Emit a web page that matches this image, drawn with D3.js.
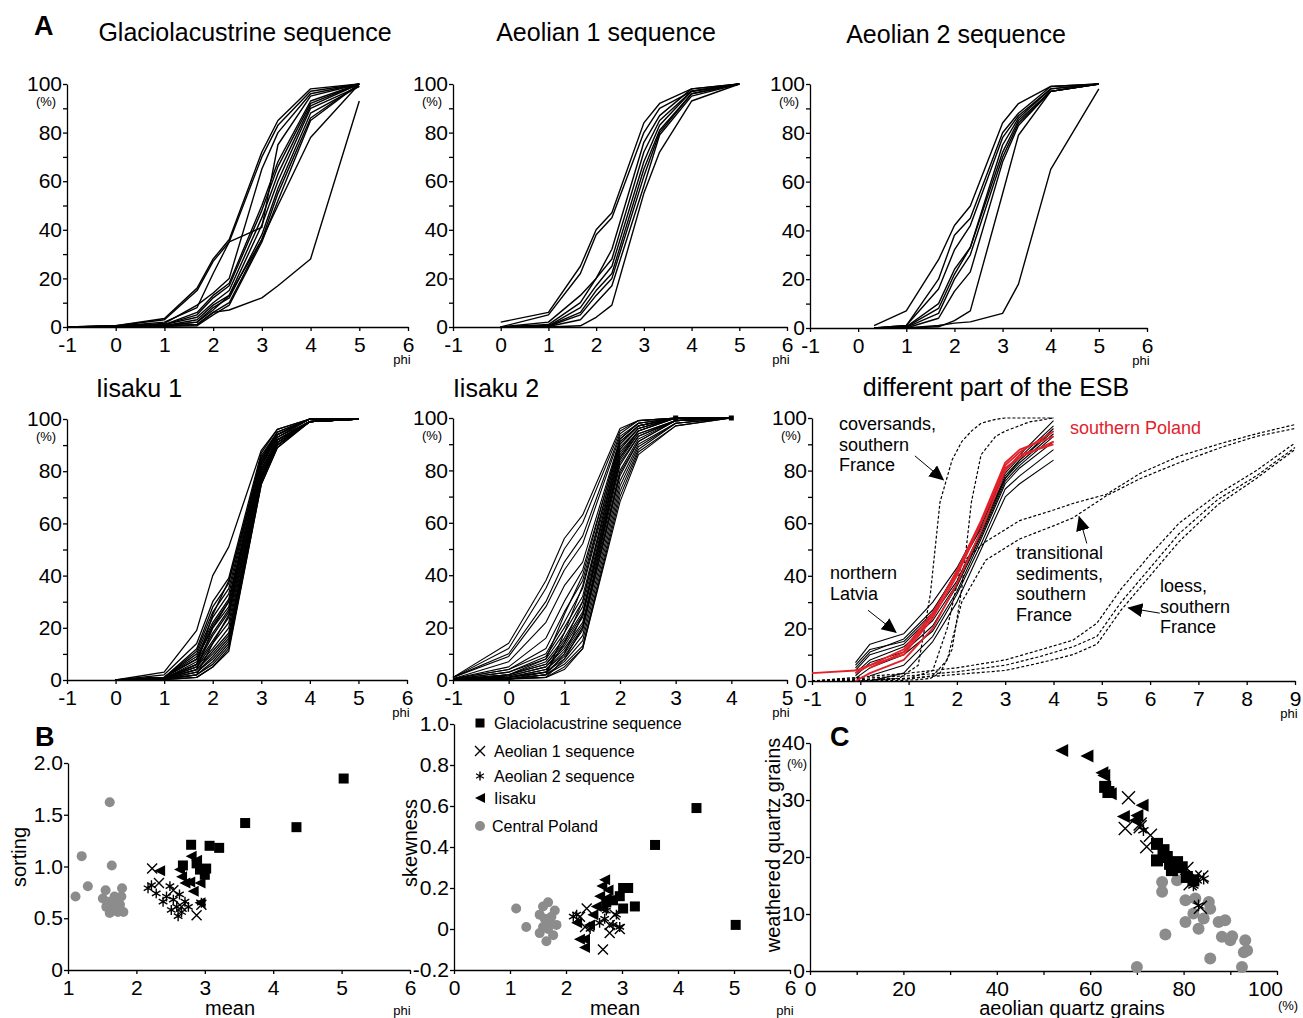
<!DOCTYPE html>
<html>
<head>
<meta charset="utf-8">
<script src="https://cdn.jsdelivr.net/npm/d3@7"></script>
<style>
  body { margin: 0; background: #fff; }
  svg { font-family: "Liberation Sans", Arial, sans-serif; }
  .axis text { font-size: 21px; fill: #000; font-family: "Liberation Sans", Arial, sans-serif; }
  .axis path, .axis line { stroke: #000; stroke-width: 1.3; }
</style>
</head>
<body>
<svg id="fig" width="1303" height="1018"></svg>
<script>
// ---- grain size curves (cumulative %, by phi) ----
var glacioPhi = [-1, 0, 1, 1.67, 2, 2.33, 3, 3.33, 4, 5];
var glacioPct = [
    [0, 0.5, 3.5, 16, 28, 36, 72, 85, 98, 100],
    [0, 0.5, 3, 15, 27, 35, 70, 83, 97, 100],
    [0, 0.3, 2, 8, 22, 35, 41, 75, 95, 100],
    [0, 0.3, 1.5, 9, 14, 20, 65, 80, 96, 100],
    [0, 0.3, 1, 6, 13, 18, 50, 68, 93, 100],
    [0, 0.2, 1, 5, 12, 17, 48, 66, 92, 100],
    [0, 0.2, 1, 4, 10, 15, 45, 63, 91, 100],
    [0, 0.2, 0.5, 3, 9, 13, 42, 60, 90, 99],
    [0, 0.2, 0.5, 2, 8, 12, 38, 57, 88, 99],
    [0, 0.1, 0.5, 1, 6, 10, 36, 55, 86, 100],
    [0, 0.1, 0.3, 0.5, 5, 9, 35, 52, 85, 100],
    [0, 0.2, 0.5, 2, 7, 13, 36, 50, 78, 100],
    [0, 0.1, 0.3, 1, 6, 7, 12, 17, 28, 93]
];
var aeolian1Phi = [0, 1, 1.67, 2, 2.33, 3, 3.33, 4, 5];
var aeolian1Pct = [
    [2, 6, 25, 40, 47, 84, 92, 98, 100],
    [0, 5, 22, 38, 45, 80, 90, 97, 100],
    [0, 2, 13, 20, 32, 76, 87, 98, 100],
    [0, 1, 10, 20, 28, 72, 85, 97, 100],
    [0, 0.5, 8, 17, 25, 68, 83, 97, 100],
    [0, 0.5, 6, 15, 22, 65, 81, 96, 100],
    [0, 0.3, 5, 13, 20, 62, 80, 96, 100],
    [0, 0.2, 3, 10, 17, 58, 79, 95, 100],
    [0, 0, 0.5, 4, 9, 55, 72, 93, 100]
];
var aeolian2Phi = [0.33, 1, 1.67, 2, 2.33, 3, 3.33, 4, 5];
var aeolian2Pct = [
    [1, 7, 28, 42, 50, 84, 92, 99, 100],
    [0, 1, 20, 38, 45, 80, 88, 99, 100],
    [0, 1, 16, 32, 42, 78, 87, 98, 100],
    [0, 0.5, 10, 24, 33, 75, 86, 98, 100],
    [0, 0.5, 8, 22, 33, 72, 85, 97, 100],
    [0, 0.3, 6, 20, 30, 70, 84, 97, 100],
    [0, 0, 4, 15, 23, 68, 83, 97, 100],
    [0, 0, 0.5, 3, 7, 55, 79, 97, 100],
    [0, 0, 1, 2, 2.5, 6, 18, 65, 98]
];
var iisaku1Phi = [0, 1, 1.67, 2, 2.33, 3, 3.33, 4, 5];
var iisaku1Pct = [
    [0, 3, 19, 40, 51, 88, 96, 100, 100],
    [0, 2, 14, 30, 39, 87, 96, 100, 100],
    [0, 1, 12, 28, 37, 86, 95, 100, 100],
    [0, 1, 11, 26, 35, 85, 95, 100, 100],
    [0, 1, 10, 24, 33, 85, 94, 100, 100],
    [0, 1, 9, 22, 31, 84, 94, 100, 100],
    [0, 1, 8, 21, 30, 83, 94, 100, 100],
    [0, 1, 8, 20, 28, 83, 93, 100, 100],
    [0, 0.5, 7, 18, 27, 82, 93, 100, 100],
    [0, 0.5, 6, 17, 26, 82, 93, 99, 100],
    [0, 0.5, 6, 15, 24, 81, 92, 99, 100],
    [0, 0.5, 5, 14, 22, 80, 92, 99, 100],
    [0, 0.5, 5, 12, 20, 80, 92, 99, 100],
    [0, 0.5, 4, 11, 18, 79, 91, 99, 100],
    [0, 0.5, 4, 10, 17, 78, 91, 99, 100],
    [0, 0.3, 3, 9, 16, 78, 91, 99, 100],
    [0, 0.3, 3, 8, 15, 77, 90, 99, 100],
    [0, 0.3, 2, 7, 14, 77, 90, 99, 100],
    [0, 0.3, 2, 6, 13, 76, 90, 99, 100],
    [0, 0.2, 1, 5, 12, 75, 89, 99, 100],
    [0, 0.2, 1, 5, 11, 75, 89, 99, 100],
    [0, 0.5, 6, 25, 38, 84, 94, 100, 100],
    [0, 0.5, 4, 20, 30, 80, 92, 99, 100],
    [0, 0.3, 2, 14, 25, 78, 91, 99, 100]
];
var iisaku2Phi = [-1, 0, 0.67, 1, 1.33, 2, 2.33, 3, 4];
var iisaku2Pct = [
    [1, 14, 38, 54, 63, 96, 99, 100, 100],
    [1, 12, 35, 50, 60, 95, 99, 100, 100],
    [1, 10, 30, 45, 55, 94, 99, 100, 100],
    [1, 9, 28, 42, 52, 93, 98, 100, 100],
    [0.5, 7, 22, 36, 45, 92, 98, 100, 100],
    [0.5, 5, 16, 30, 42, 91, 97, 100, 100],
    [0.5, 4, 12, 26, 38, 90, 97, 100, 100],
    [0.5, 4, 10, 22, 35, 89, 96, 100, 100],
    [0.3, 3, 9, 20, 32, 88, 96, 100, 100],
    [0.3, 3, 8, 18, 30, 87, 95, 100, 100],
    [0.3, 2, 7, 16, 28, 86, 95, 100, 100],
    [0.2, 2, 6, 15, 26, 85, 94, 99, 100],
    [0.2, 2, 6, 14, 25, 84, 94, 99, 100],
    [0.2, 1.5, 5, 13, 24, 83, 93, 99, 100],
    [0.2, 1.5, 5, 12, 22, 82, 93, 99, 100],
    [0, 1, 4, 11, 21, 80, 92, 99, 100],
    [0, 1, 4, 10, 20, 79, 91, 99, 100],
    [0, 1, 3, 9, 19, 78, 91, 99, 100],
    [0, 1, 3, 8, 17, 76, 90, 98, 100],
    [0, 0.5, 2, 7, 15, 74, 89, 98, 100],
    [0, 0.5, 2, 6, 13, 72, 88, 98, 100],
    [0, 0.5, 1, 5, 12, 70, 87, 97, 100],
    [0, 0.5, 1, 4, 12, 68, 86, 97, 100],
    [0, 0.3, 1, 8, 20, 85, 95, 100, 100],
    [0, 0.3, 2, 10, 25, 88, 96, 100, 100],
    [0, 0.3, 3, 14, 30, 90, 97, 100, 100],
    [0, 0.3, 2, 18, 36, 91, 97, 100, 100],
    [0, 2, 8, 25, 40, 92, 98, 100, 100]
];
// different parts of the ESB
var latviaPhi = [-0.1, 0.2, 0.9, 1.5, 2, 2.5, 3, 3.3, 4];
var latviaPct = [
    [7, 14, 18, 30, 43, 60, 80, 86, 99],
    [5, 11, 16, 27, 41, 59, 79, 85, 97],
    [4, 10, 14, 25, 38, 57, 78, 84, 96],
    [3, 8, 13, 23, 37, 56, 77, 83, 94],
    [2, 7, 11, 21, 36, 55, 76, 82, 93],
    [1, 5, 10, 19, 34, 54, 75, 81, 91],
    [null, 2, 6, 17, 33, 52, 73, 78, 88],
    [null, 0, 3, 15, 30, 50, 70, 75, 84],
    [6, 12, 15, 26, 42, 58, 77, 84, 95]
];
var polandPhi = [-1, -0.1, 0.2, 0.9, 1.5, 2, 2.5, 3, 3.3, 4];
var polandPct = [
    [3, 4, 6, 10, 24, 40, 60, 82, 87, 95],
    [null, 0, 3, 8, 20, 37, 57, 80, 86, 90],
    [null, null, 5, 11, 25, 42, 61, 83, 88, 93],
    [null, 3, 6, 12, 26, 41, 60, 81, 85, 91]
];
var coversandPhi = [0, 0.8, 1.2, 1.45, 1.65, 1.9, 2.1, 2.3, 2.5, 2.8, 3, 3.5, 4];
var coversandPct = [
    [0, 1, 6, 33, 68, 84, 91, 95, 98, 99.5, 100, 100, 100],
    [0, 0.2, 0.5, 1, 3, 12, 35, 68, 86, 93, 95, 98.5, 100]
];
var transitionalPhi = [-1, 0, 1, 1.5, 1.8, 2.1, 2.6, 3.3, 4, 4.4, 5.1, 5.8, 6.6, 7.5, 8.2, 9];
var transitionalPct = [
    [0, 0.5, 1, 4, 20, 45, 53, 61, 65, 67.5, 71, 79, 85.5, 90.5, 94, 97.5],
    [0, 0.3, 0.8, 2, 8, 30, 46, 54, 59, 62, 70.5, 77, 83, 89, 93, 96]
];
var loessPhi = [-1, 0, 1, 2, 3, 3.7, 4.4, 4.9, 5.4, 6, 6.6, 7.4, 8.2, 9];
var loessPct = [
    [0, 1.5, 3, 5, 8, 11.7, 15.5, 22, 35, 48, 60, 71, 80, 90.5],
    [0, 1, 2, 3.5, 6, 9.2, 13, 17, 30, 43, 56, 69, 78, 88.8],
    [0, 0.5, 1, 2.5, 4, 6.8, 10, 14, 27, 40, 53, 67, 77, 88]
];

// ---- B: mean vs sorting ----
var sortGlacio = [[5.03, 1.85], [4.34, 1.38], [3.59, 1.42], [2.80, 1.21], [3.07, 1.20], [3.21, 1.18],
    [2.68, 1.01], [2.88, 1.03], [2.93, 0.97], [3.02, 0.98], [3.0, 0.92]];
var sortAeolian1 = [[2.23, 0.98], [2.33, 0.84], [2.88, 0.53], [2.95, 0.63], [2.54, 0.77], [2.66, 0.61]];
var sortAeolian2 = [[2.17, 0.79], [2.22, 0.82], [2.29, 0.74], [2.39, 0.66], [2.49, 0.81], [2.54, 0.68],
    [2.59, 0.61], [2.61, 0.52], [2.66, 0.56], [2.71, 0.66], [2.51, 0.58], [2.44, 0.71], [2.95, 0.65],
    [2.76, 0.61], [2.63, 0.73]];
var sortIisaku = [[2.34, 0.96], [2.80, 1.10], [2.88, 1.06], [2.66, 0.90], [2.78, 0.85], [2.83, 0.76],
    [2.93, 0.84], [2.63, 0.97], [2.93, 0.65], [2.71, 0.84]];
var sortPoland = [[1.11, 0.71], [1.20, 1.10], [1.29, 0.81], [1.61, 1.62], [1.64, 1.01], [1.55, 0.77],
    [1.51, 0.69], [1.61, 0.66], [1.61, 0.55], [1.71, 0.63], [1.68, 0.71], [1.78, 0.71], [1.79, 0.79],
    [1.81, 0.56], [1.73, 0.56], [1.76, 0.63], [1.56, 0.61], [1.66, 0.60]];

// ---- B: mean vs skewness ----
var skewGlacio = [[5.03, 0.02], [4.33, 0.59], [3.59, 0.41], [3.02, 0.20], [3.11, 0.20], [3.23, 0.11],
    [3.02, 0.10], [2.84, 0.14], [2.96, 0.16], [2.72, 0.13]];
var skewAeolian1 = [[2.37, 0.10], [2.25, 0.06], [2.66, -0.10], [2.78, 0.02], [2.78, -0.02], [2.87, 0.07],
    [2.96, 0.0], [2.34, 0.01]];
var skewAeolian2 = [[2.13, 0.06], [2.19, 0.07], [2.43, 0.0], [2.60, 0.03], [2.69, 0.05], [2.84, 0.02],
    [2.90, 0.07], [2.72, 0.09], [2.96, 0.01]];
var skewIisaku = [[2.69, 0.24], [2.64, 0.21], [2.60, 0.16], [2.54, 0.11], [2.48, 0.07], [2.42, 0.02],
    [2.33, -0.05], [2.24, -0.05], [2.33, -0.09], [2.19, 0.03], [2.72, 0.15], [2.66, 0.10], [2.75, 0.19]];
var skewPoland = [[1.11, 0.10], [1.29, 0.01], [1.53, 0.07], [1.59, 0.11], [1.68, 0.13], [1.80, 0.09],
    [1.53, -0.02], [1.65, -0.06], [1.77, -0.03], [1.83, 0.02], [1.71, 0.03], [1.62, 0.05], [1.68, 0.0],
    [1.74, 0.06], [1.59, 0.01]];

// ---- C: aeolian vs weathered quartz grains (%) ----
var quartzIisaku = [[53.9, 38.7], [59.3, 37.7], [62.5, 34.8], [62.9, 34.3], [71.1, 29.1], [67.1, 27.1],
    [70, 27.3], [64.3, 31.1], [69.6, 26.4]];
var quartzGlacio = [[63.2, 32.3], [63.9, 31.4], [74.3, 22.3], [74.3, 19.4], [76.4, 20], [78.6, 19.1],
    [77.5, 17.7], [80.7, 16.5], [82.1, 15.9], [79.6, 18.2], [75.7, 21.2], [77.1, 18.8]];
var quartzAeolian1 = [[68.2, 30.4], [67.5, 25], [70.7, 25.3], [72.9, 23.8], [72.1, 21.8], [80.7, 18],
    [82.5, 16.5], [81.4, 15.3], [83.9, 16.5], [83.6, 11.2], [70.7, 25.8]];
var quartzAeolian2 = [[82.1, 15], [84.3, 16.2], [83.2, 11.5], [71.4, 24.7]];
var quartzPoland = [[75.4, 15.6], [75.4, 13.9], [78.6, 15.9], [80.4, 12.4], [82.5, 12.7], [85.4, 12.1],
    [85.7, 10.9], [80.4, 8.6], [82.1, 10.1], [84.3, 9.2], [83.2, 7.4], [87.5, 8.6], [88.9, 8.9],
    [88.2, 6], [90, 5.4], [90.4, 6.1], [93.2, 5.4], [92.9, 3.3], [93.6, 3.6], [85.7, 2.2], [76.1, 6.4],
    [70, 0.7], [92.5, 0.7]];

var legendNames = ["Glaciolacustrine sequence", "Aeolian 1 sequence", "Aeolian 2 sequence", "Iisaku", "Central Poland"];
var pctTicks = d3.range(0, 101, 10);

var svg = d3.select("#fig");
svg.append("rect").attr("width", 1303).attr("height", 1018).attr("fill", "#fff");

svg.append("defs").append("marker")
    .attr("id", "arrow")
    .attr("markerUnits", "userSpaceOnUse")
    .attr("markerWidth", 16).attr("markerHeight", 16)
    .attr("refX", 14).attr("refY", 7)
    .attr("orient", "auto")
    .append("path").attr("d", "M0,0L15,7L0,14Z").attr("fill", "#000");

// plain hyphen minus, as in the original figure
var plain = function (d) { return String(d); };

function panel(c) {
    var x = d3.scaleLinear().domain(c.xd).range([c.left, c.right]);
    var y = d3.scaleLinear().domain(c.yd).range([c.bottom, c.top]);
    svg.append("g").attr("class", "axis")
        .attr("transform", "translate(0," + c.bottom + ")")
        .call(d3.axisBottom(x).tickValues(c.xt).tickFormat(c.xf || plain)
            .tickSize(4).tickSizeOuter(0).tickPadding(6));
    svg.append("g").attr("class", "axis")
        .attr("transform", "translate(" + c.left + ",0)")
        .call(d3.axisLeft(y).tickValues(c.yt).tickFormat(c.yf)
            .tickSize(4).tickSizeOuter(0).tickPadding(1));
    return {x: x, y: y};
}

function smallText(t, x, y, anchor) {
    svg.append("text").attr("x", x).attr("y", y).attr("font-size", 13)
        .attr("text-anchor", anchor || "middle").text(t);
}

var pctFmt = function (d) { return d % 20 === 0 ? String(d) : ""; };

function curvePanel(c, phi, curves, style) {
    var p = panel({left: c.left, right: c.right, top: c.top, bottom: c.bottom,
        xd: c.xd, yd: [0, 100], xt: d3.range(c.xd[0], c.xd[1] + 1), yt: pctTicks, yf: pctFmt});
    addCurves(p, phi, curves, "#000", style || 1.4);
    smallText("(%)", c.left - 21, p.y(100) + 22);
    smallText("phi", c.right - 6, c.bottom + 37);
    return p;
}

function addCurves(p, phi, curves, color, width, dash) {
    var line = d3.line()
        .defined(function (d) { return d[1] != null; })
        .x(function (d) { return p.x(d[0]); })
        .y(function (d) { return p.y(d[1]); });
    svg.append("g").selectAll("path")
        .data(curves).enter().append("path")
        .attr("d", function (d) { return line(d3.zip(phi, d)); })
        .attr("fill", "none")
        .attr("stroke", color)
        .attr("stroke-width", width)
        .attr("stroke-dasharray", dash || null)
        .attr("stroke-linejoin", "round");
}

function title(t, x, y, bold, size) {
    svg.append("text").attr("x", x).attr("y", y)
        .attr("font-size", size || 25)
        .attr("font-weight", bold ? "bold" : "normal")
        .attr("text-anchor", bold ? "start" : "middle")
        .text(t);
}

// ---------- A ----------
title("A", 34, 35, true, 27);
title("Glaciolacustrine sequence", 245, 41);
title("Aeolian 1 sequence", 606, 41);
title("Aeolian 2 sequence", 956, 43);
title("Iisaku 1", 139, 397);
title("Iisaku 2", 496, 397);
title("different part of the ESB", 996, 396);

curvePanel({left: 67, right: 408, top: 84, bottom: 327, xd: [-1, 6]}, glacioPhi, glacioPct);
curvePanel({left: 453, right: 787, top: 84, bottom: 327, xd: [-1, 6]}, aeolian1Phi, aeolian1Pct);
curvePanel({left: 810, right: 1147, top: 84, bottom: 328, xd: [-1, 6]}, aeolian2Phi, aeolian2Pct);
curvePanel({left: 67, right: 407, top: 419, bottom: 680, xd: [-1, 6]}, iisaku1Phi, iisaku1Pct, 1.3);
var p5 = curvePanel({left: 453, right: 787, top: 418, bottom: 680, xd: [-1, 5]}, iisaku2Phi, iisaku2Pct, 1.1);
svg.append("g").selectAll("rect").data([[3, 100], [4, 100]]).enter().append("rect")
    .attr("x", function (d) { return p5.x(d[0]) - 2.5; })
    .attr("y", function (d) { return p5.y(d[1]) - 2.5; })
    .attr("width", 5).attr("height", 5).attr("fill", "#000");

var p6 = curvePanel({left: 812, right: 1295, top: 418, bottom: 681, xd: [-1, 9]}, [], []);
addCurves(p6, coversandPhi, coversandPct, "#000", 1.2, "3,2");
addCurves(p6, transitionalPhi, transitionalPct, "#000", 1.2, "3,2");
addCurves(p6, loessPhi, loessPct, "#000", 1.2, "3,2");
addCurves(p6, latviaPhi, latviaPct, "#000", 1.1);
addCurves(p6, polandPhi, polandPct, "#e3212b", 1.8);

function note(lines, x, y, color) {
    var t = svg.append("text").attr("x", x).attr("y", y).attr("font-size", 18)
        .attr("fill", color || "#000");
    lines.forEach(function (s, i) {
        t.append("tspan").attr("x", x).attr("dy", i ? 20.5 : 0).text(s);
    });
}
function arrow(p, a, b) {
    svg.append("line")
        .attr("x1", p.x(a[0])).attr("y1", p.y(a[1]))
        .attr("x2", p.x(b[0])).attr("y2", p.y(b[1]))
        .attr("stroke", "#000").attr("stroke-width", 1)
        .attr("marker-end", "url(#arrow)");
}
note(["coversands,", "southern", "France"], 839, 430);
note(["northern", "Latvia"], 830, 579);
note(["transitional", "sediments,", "southern", "France"], 1016, 559);
note(["loess,", "southern", "France"], 1160, 592);
note(["southern Poland"], 1070, 434, "#e3212b");
arrow(p6, [1.13, 85.6], [1.72, 76.5]);
arrow(p6, [0.16, 26.9], [0.74, 18.5]);
arrow(p6, [4.69, 52.3], [4.53, 62.5]);
arrow(p6, [6.2, 25.8], [5.55, 27.8]);

// ---------- B and C ----------
function marker(g, type, s) {
    if (type === "square") {
        g.append("rect").attr("x", -s / 2).attr("y", -s / 2).attr("width", s).attr("height", s).attr("fill", "#000");
    } else if (type === "x") {
        var r = s * 0.5;
        g.append("path").attr("d", "M" + (-r) + "," + (-r) + "L" + r + "," + r + "M" + (-r) + "," + r + "L" + r + "," + (-r))
            .attr("stroke", "#000").attr("stroke-width", 1.4).attr("fill", "none");
    } else if (type === "star") {
        var q = s * 0.45, h = q * 0.87, k = q * 0.5;
        g.append("path").attr("d", "M0," + (-q) + "L0," + q + "M" + (-h) + "," + (-k) + "L" + h + "," + k + "M" + (-h) + "," + k + "L" + h + "," + (-k))
            .attr("stroke", "#000").attr("stroke-width", 1.4).attr("fill", "none");
    } else if (type === "tri") {
        var w = s * 0.5;
        g.append("path").attr("d", "M" + (-w) + ",0L" + w + "," + (-w) + "L" + w + "," + w + "Z").attr("fill", "#000");
    } else {
        g.append("circle").attr("r", s / 2).attr("fill", "#8c8c8c");
    }
}
function scatter(p, data, type, s) {
    svg.append("g").selectAll("g").data(data).enter().append("g")
        .attr("transform", function (d) { return "translate(" + p.x(d[0]) + "," + p.y(d[1]) + ")"; })
        .each(function () { marker(d3.select(this), type, s); });
}
function axisLabel(t, x, y, rot) {
    svg.append("text").attr("font-size", 20).attr("text-anchor", "middle")
        .attr("transform", "translate(" + x + "," + y + ")" + (rot ? " rotate(-90)" : ""))
        .text(t);
}

title("B", 35, 746, true, 27);
var pb1 = panel({left: 68, right: 410, top: 763, bottom: 970, xd: [1, 6], yd: [0, 2],
    xt: d3.range(1, 7), yt: [0, 0.5, 1, 1.5, 2],
    yf: function (d) { return d === 0 ? "0" : d3.format(".1f")(d); }});
scatter(pb1, sortPoland, "circle", 10);
scatter(pb1, sortAeolian2, "star", 11);
scatter(pb1, sortAeolian1, "x", 10);
scatter(pb1, sortIisaku, "tri", 11);
scatter(pb1, sortGlacio, "square", 10);
axisLabel("sorting", 26, 857, true);
axisLabel("mean", 230, 1015);
smallText("phi", 402, 1015);

var pb2 = panel({left: 454, right: 790, top: 724, bottom: 970, xd: [0, 6], yd: [-0.2, 1],
    xt: d3.range(0, 7), yt: [-0.2, 0, 0.2, 0.4, 0.6, 0.8, 1],
    yf: function (d) { return Math.abs(d) < 1e-9 ? "0" : (d < 0 ? "-" : "") + Math.abs(d).toFixed(1); }});
scatter(pb2, skewPoland, "circle", 10);
scatter(pb2, skewAeolian2, "star", 11);
scatter(pb2, skewAeolian1, "x", 10);
scatter(pb2, skewIisaku, "tri", 11);
scatter(pb2, skewGlacio, "square", 10);
axisLabel("skewness", 417, 843, true);
axisLabel("mean", 615, 1015);
smallText("phi", 785, 1015);

// legend
var legTypes = ["square", "x", "star", "tri", "circle"];
var legY = [723, 751, 776, 798, 826];
legendNames.forEach(function (n, i) {
    var g = svg.append("g").attr("transform", "translate(480," + legY[i] + ")");
    marker(g, legTypes[i], i === 0 ? 9 : 10);
    svg.append("text").attr("x", i === 4 ? 492 : 494).attr("y", legY[i] + 6)
        .attr("font-size", 16).text(n);
});

title("C", 830, 746, true, 27);
var pc = panel({left: 810, right: 1277, top: 743, bottom: 971, xd: [0, 100], yd: [0, 40],
    xt: d3.range(0, 101, 10), yt: [0, 10, 20, 30, 40],
    xf: function (d) { return d % 20 === 0 ? String(d) : ""; }, yf: plain});
// the "100" label sits a little inside the axis end, as in the original
svg.selectAll("g.axis").filter(function (d, i) { return i === 16; })
    .selectAll(".tick text").filter(function (d) { return d === 100; })
    .attr("dx", -12);
scatter(pc, quartzPoland, "circle", 12);
scatter(pc, quartzAeolian2, "star", 13);
scatter(pc, quartzAeolian1, "x", 13);
scatter(pc, quartzIisaku, "tri", 13);
scatter(pc, quartzGlacio, "square", 12);
axisLabel("weathered quartz grains", 780, 845, true);
axisLabel("aeolian quartz grains", 1072, 1015);
smallText("(%)", 797, 768);
smallText("(%)", 1288, 1010);
</script>
</body>
</html>
